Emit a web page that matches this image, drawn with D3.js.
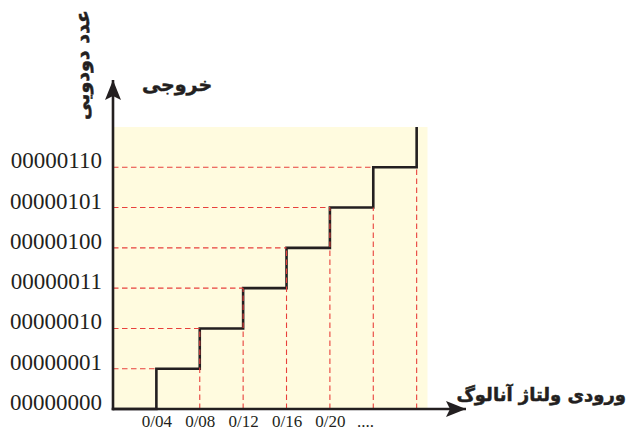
<!DOCTYPE html>
<html>
<head>
<meta charset="utf-8">
<script src="https://cdn.jsdelivr.net/npm/d3@7"></script>
<style>
  body { margin: 0; background: #fff; }
  svg { display: block; }
</style>
</head>
<body>
<svg id="chart"></svg>
<script>
// output codes (y axis)
const codes = ["00000000", "00000001", "00000010", "00000011", "00000100", "00000101", "00000110"];
// input voltage where the code steps up
const stepX = [0, 0.04, 0.08, 0.12, 0.16, 0.20, 0.24, 0.28];
const stepLevel = [0, 1, 2, 3, 4, 5, 6, 7];
// x tick labels
const tickValues = [0.04, 0.08, 0.12, 0.16, 0.20];
const tickLabels = ["0/04", "0/08", "0/12", "0/16", "0/20"];
// vertical guide lines and how high they reach
const guideX = [0.08, 0.12, 0.16, 0.20, 0.24, 0.28];
const guideTop = [2, 3, 4, 5, 5, 6];

const width = 630;
const height = 431;
const ink = "#231f20";
const guide = "#e8403c";

const svg = d3.select("#chart")
    .attr("width", width)
    .attr("height", height);

const xScale = d3.scaleLinear()
    .domain([0, 0.29])
    .range([113, 427.5]);

const yScale = d3.scaleLinear()
    .domain([0, 7])
    .range([409, 127]);

// pale background
svg.append("rect")
    .attr("x", xScale(0))
    .attr("y", yScale(7))
    .attr("width", xScale(0.29) - xScale(0))
    .attr("height", yScale(0) - yScale(7))
    .attr("fill", "#fffbdf");

// step line
const line = d3.line()
    .x(d => xScale(d[0]))
    .y(d => yScale(d[1]))
    .curve(d3.curveStepAfter);

svg.append("path")
    .datum(stepX.map((x, i) => [x, stepLevel[i]]))
    .attr("d", line)
    .attr("fill", "none")
    .attr("stroke", ink)
    .attr("stroke-width", 2.6);

// horizontal guides
svg.append("g")
    .selectAll("line")
    .data(d3.range(1, codes.length))
    .enter()
    .append("line")
    .attr("x1", xScale(0))
    .attr("x2", k => xScale(stepX[k]))
    .attr("y1", k => yScale(k))
    .attr("y2", k => yScale(k))
    .attr("stroke", guide)
    .attr("stroke-width", 1.1)
    .attr("stroke-dasharray", "5.5,3.5");

// vertical guides
svg.append("g")
    .selectAll("line")
    .data(guideX)
    .enter()
    .append("line")
    .attr("x1", d => xScale(d))
    .attr("x2", d => xScale(d))
    .attr("y1", yScale(0))
    .attr("y2", (d, i) => yScale(guideTop[i]))
    .attr("stroke", guide)
    .attr("stroke-width", 1.1)
    .attr("stroke-dasharray", "5.5,3.5");

// arrow heads
const defs = svg.append("defs");
defs.append("marker")
    .attr("id", "arrow")
    .attr("viewBox", "0 0 20 16")
    .attr("refX", 20)
    .attr("refY", 8)
    .attr("markerWidth", 20)
    .attr("markerHeight", 16)
    .attr("markerUnits", "userSpaceOnUse")
    .attr("orient", "auto")
    .append("path")
    .attr("d", "M0,0 L20,8 L0,16 L4,8 Z")
    .attr("fill", ink);

// axes lines
svg.append("line")
    .attr("x1", xScale(0))
    .attr("x2", xScale(0))
    .attr("y1", yScale(0) + 1.3)
    .attr("y2", 80)
    .attr("stroke", ink)
    .attr("stroke-width", 2.6)
    .attr("marker-end", "url(#arrow)");

svg.append("line")
    .attr("x1", xScale(0) - 1.3)
    .attr("x2", 466)
    .attr("y1", yScale(0))
    .attr("y2", yScale(0))
    .attr("stroke", ink)
    .attr("stroke-width", 2.6)
    .attr("marker-end", "url(#arrow)");

// y axis labels
const yAxis = d3.axisLeft(yScale)
    .tickValues(d3.range(codes.length))
    .tickSize(0)
    .tickPadding(0)
    .tickFormat(d => codes[d]);

const gy = svg.append("g")
    .attr("transform", "translate(102, 0)")
    .call(yAxis);
gy.select(".domain").remove();
gy.selectAll("text")
    .attr("x", 0)
    .attr("dy", "0.02em")
    .attr("fill", ink)
    .style("font-family", "'Liberation Serif', serif")
    .style("font-size", "23px");

// x axis labels
const xAxis = d3.axisBottom(xScale)
    .tickValues(tickValues)
    .tickSize(0)
    .tickPadding(0)
    .tickFormat((d, i) => tickLabels[i]);

const gx = svg.append("g")
    .attr("transform", "translate(0, 427)")
    .call(xAxis);
gx.select(".domain").remove();
gx.selectAll("text")
    .attr("y", 0)
    .attr("dy", 0)
    .attr("fill", ink)
    .style("font-family", "'Liberation Serif', serif")
    .style("font-size", "17px");

svg.append("text")
    .attr("x", xScale(0.20) + 27)
    .attr("y", 427)
    .attr("fill", ink)
    .style("font-family", "'Liberation Serif', serif")
    .style("font-size", "17px")
    .text("....");

// titles
const titleFont = "'DejaVu Sans', sans-serif";

svg.append("text")
    .attr("x", 177)
    .attr("y", 91)
    .attr("text-anchor", "middle")
    .attr("fill", ink)
    .attr("stroke", ink)
    .attr("stroke-width", 0.5)
    .style("font-family", titleFont)
    .style("font-weight", "bold")
    .style("font-size", "19px")
    .text("خروجی");

svg.append("text")
    .attr("transform", "translate(89, 65) rotate(-90)")
    .attr("text-anchor", "middle")
    .attr("fill", ink)
    .attr("stroke", ink)
    .attr("stroke-width", 0.5)
    .style("font-family", titleFont)
    .style("font-weight", "bold")
    .style("font-size", "19px")
    .text("عدد دودویی");

svg.append("text")
    .attr("x", 626)
    .attr("y", 401)
    .attr("text-anchor", "end")
    .attr("fill", ink)
    .attr("stroke", ink)
    .attr("stroke-width", 0.5)
    .style("font-family", titleFont)
    .style("font-weight", "bold")
    .style("font-size", "18px")
    .text("ورودی ولتاژ آنالوگ");
</script>
</body>
</html>
